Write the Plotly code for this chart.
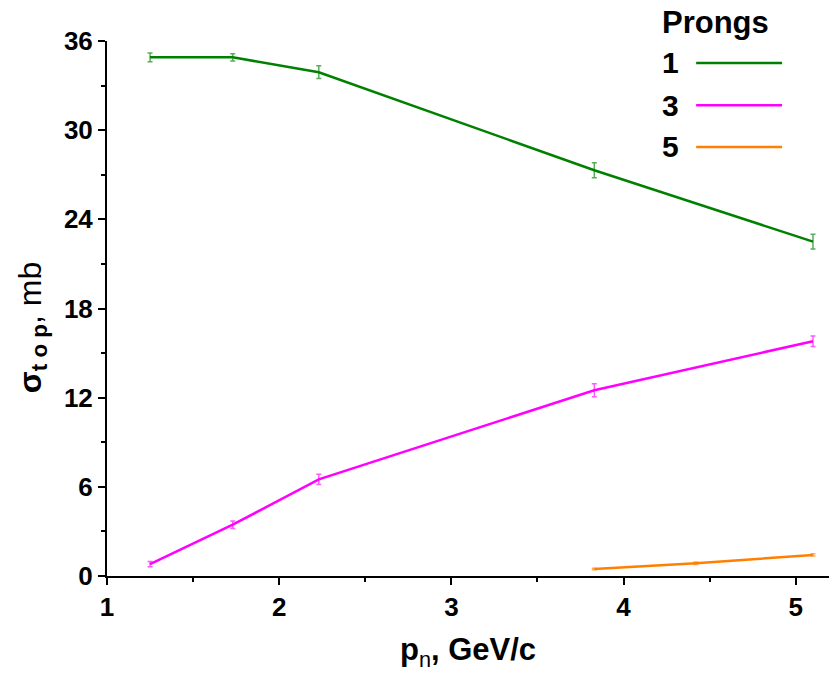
import plotly.graph_objects as go

# Momentum of the incident neutron, GeV/c
p_main = [1.25, 1.73, 2.23, 3.83, 5.10]
p_five = [3.83, 4.42, 5.10]

# Topological cross sections (mb) and their errors
sigma_1 = [34.9, 34.9, 33.9, 27.3, 22.5]
err_1 = [0.30, 0.25, 0.43, 0.50, 0.50]
sigma_3 = [0.80, 3.45, 6.50, 12.5, 15.8]
err_3 = [0.18, 0.25, 0.35, 0.43, 0.35]
sigma_5 = [0.47, 0.86, 1.42]
err_5 = [0.05, 0.08, 0.08]

prong_labels = ["1", "3", "5"]
line_colors = ["#008000", "#ff00ff", "#ff8000"]
bar_colors = ["rgba(0,128,0,0.65)", "rgba(255,0,255,0.65)", "rgba(255,128,0,0.65)"]

FONT = "Liberation Sans, Arial, sans-serif"

fig = go.Figure()
series = [(p_main, sigma_1, err_1), (p_main, sigma_3, err_3), (p_five, sigma_5, err_5)]
for (xs, ys, es), lc, bc, name in zip(series, line_colors, bar_colors, prong_labels):
    fig.add_trace(go.Scatter(
        x=xs, y=ys, mode="lines", name=name,
        line=dict(color=lc, width=2.5),
        error_y=dict(type="data", array=es, visible=True,
                     color=bc, thickness=1.5, width=2.5),
        showlegend=False,
    ))

# Hand-drawn legend: title, labels on the left, line samples on the right
fig.add_annotation(text="<b>Prongs</b>", x=0.766, y=1.034, xref="paper", yref="paper",
                   xanchor="left", yanchor="middle", showarrow=False,
                   font=dict(family=FONT, size=31, color="black"))
legend_y = [0.959, 0.880, 0.802]
for lab, col, ly in zip(prong_labels, line_colors, legend_y):
    fig.add_annotation(text=f"<b>{lab}</b>", x=0.766, y=ly, xref="paper", yref="paper",
                       xanchor="left", yanchor="middle", showarrow=False,
                       font=dict(family=FONT, size=30, color="black"))
    fig.add_shape(type="line", xref="paper", yref="paper",
                  x0=0.816, x1=0.935, y0=ly, y1=ly,
                  line=dict(color=col, width=2.5))

# Axis titles
fig.add_annotation(text="<b>σ</b><sub><b>t o p</b></sub>, mb", x=-0.104, y=0.465,
                   xref="paper", yref="paper", textangle=-90,
                   xanchor="center", yanchor="middle", showarrow=False,
                   font=dict(family=FONT, size=32, color="black"))
fig.add_annotation(text="<b>p</b><sub>n</sub><b>, GeV/c</b>", x=0.5, y=-0.142,
                   xref="paper", yref="paper",
                   xanchor="center", yanchor="middle", showarrow=False,
                   font=dict(family=FONT, size=31, color="black"))

axis_common = dict(
    showgrid=False, zeroline=False, showline=True, linecolor="black", linewidth=2,
    ticks="outside", ticklen=7, tickwidth=2, tickcolor="black",
    tickfont=dict(family=FONT, size=26, color="black"),
    mirror=False,
)
fig.update_xaxes(range=[1, 5.193], tickvals=[1, 2, 3, 4, 5],
                 ticktext=["<b>1</b>", "<b>2</b>", "<b>3</b>", "<b>4</b>", "<b>5</b>"],
                 minor=dict(tickvals=[1.5, 2.5, 3.5, 4.5], ticks="outside",
                            ticklen=4, tickwidth=2, tickcolor="black"),
                 **axis_common)
fig.update_yaxes(range=[0, 36], tickvals=[0, 6, 12, 18, 24, 30, 36],
                 ticktext=[f"<b>{v}</b>" for v in [0, 6, 12, 18, 24, 30, 36]],
                 minor=dict(tickvals=[3, 9, 15, 21, 27, 33], ticks="outside",
                            ticklen=4, tickwidth=2, tickcolor="black"),
                 **axis_common)

fig.update_layout(
    width=833, height=676,
    margin=dict(l=107, r=4, t=41, b=100, autoexpand=False),
    paper_bgcolor="white", plot_bgcolor="white",
    font=dict(family=FONT, color="black"),
)

fig.write_html("out.html")
